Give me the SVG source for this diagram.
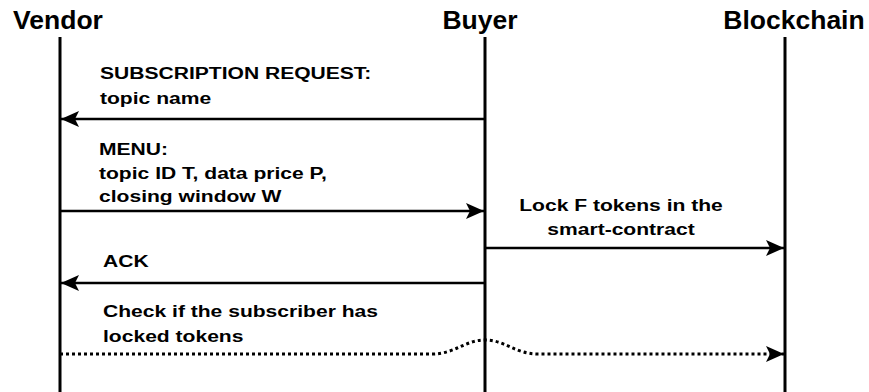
<svg xmlns="http://www.w3.org/2000/svg" width="869" height="392" viewBox="0 0 869 392">
<style>
.title{font-family:"Liberation Sans",Arial,sans-serif;font-weight:bold;font-size:26.5px;fill:#000}
.lbl{font-family:"Liberation Sans",Arial,sans-serif;font-weight:bold;font-size:17px;fill:#000}
.life{stroke:#000;stroke-width:3;fill:none}
.msg{stroke:#000;stroke-width:2.5;fill:none;marker-end:url(#arr)}
.dot{stroke-width:3;stroke-dasharray:3 3}
</style>
<defs>
<marker id="arr" markerUnits="userSpaceOnUse" markerWidth="20" markerHeight="20" viewBox="0 0 20 20" refX="19" refY="10" orient="auto">
<path d="M1,2 L19,10 L1,18 L5,10 Z" fill="#000"/>
</marker>
</defs>
<rect width="869" height="392" fill="#fff"/>
<g id="vendor">
<text class="title" x="58" y="29" text-anchor="middle">Vendor</text>
<line class="life" x1="60" y1="37" x2="60" y2="392"/>
</g>
<g id="buyer">
<text class="title" x="480" y="29" text-anchor="middle">Buyer</text>
<line class="life" x1="485" y1="37" x2="485" y2="392"/>
</g>
<g id="blockchain">
<text class="title" x="794" y="29" text-anchor="middle">Blockchain</text>
<line class="life" x1="785" y1="37" x2="785" y2="392"/>
</g>
<g id="connectors">
<path class="msg" d="M485,119 H61"/>
<path class="msg" d="M60,211 H484"/>
<path class="msg" d="M485,248 H784"/>
<path class="msg" d="M485,283 H61"/>
<path class="msg dot" d="M60,354 H432 C455,354 465,340 485,340 C505,340 515,354 538,354 H784"/>
</g>
<g id="labels">
<text class="lbl" transform="translate(100,79) scale(1.24,1)">SUBSCRIPTION REQUEST:</text>
<text class="lbl" transform="translate(100,104) scale(1.24,1)">topic name</text>
<text class="lbl" transform="translate(99,155) scale(1.24,1)">MENU:</text>
<text class="lbl" transform="translate(99,179) scale(1.24,1)">topic ID T, data price P,</text>
<text class="lbl" transform="translate(99,202) scale(1.24,1)">closing window W</text>
<text class="lbl" transform="translate(621,211) scale(1.24,1)" text-anchor="middle">Lock F tokens in the</text>
<text class="lbl" transform="translate(621,235) scale(1.24,1)" text-anchor="middle">smart-contract</text>
<text class="lbl" transform="translate(103,267) scale(1.24,1)">ACK</text>
<text class="lbl" transform="translate(103,317) scale(1.24,1)">Check if the subscriber has</text>
<text class="lbl" transform="translate(103,342) scale(1.24,1)">locked tokens</text>
</g>
</svg>
